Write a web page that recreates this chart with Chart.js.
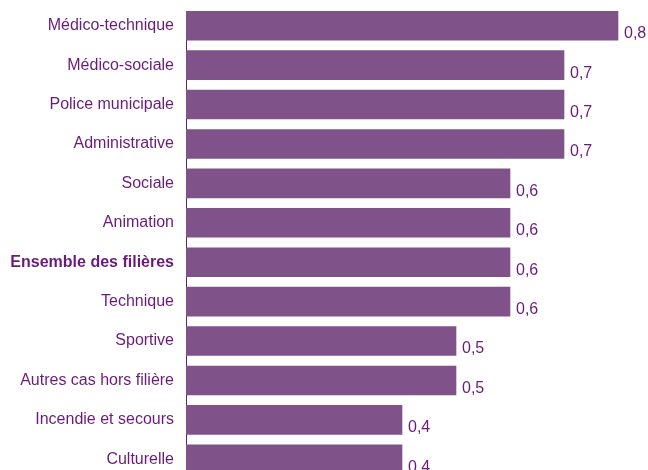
<!DOCTYPE html>
<html>
<head>
<meta charset="utf-8">
<script src="https://cdn.jsdelivr.net/npm/chart.js@4/dist/chart.umd.min.js"></script>
<style>
  html, body { margin: 0; padding: 0; background: #fff; overflow: hidden; }
  #wrap { width: 648px; height: 480px; }
</style>
</head>
<body>
<div id="wrap"><canvas id="chart"></canvas></div>
<script>
// filières et valeurs
const categories = [
  "Médico-technique", "Médico-sociale", "Police municipale", "Administrative",
  "Sociale", "Animation", "Ensemble des filières", "Technique",
  "Sportive", "Autres cas hors filière", "Incendie et secours", "Culturelle"
];
const values = [0.8, 0.7, 0.7, 0.7, 0.6, 0.6, 0.6, 0.6, 0.5, 0.5, 0.4, 0.4];
const boldIndex = 6;

const BAR = "#80528a";
const TEXT = "#6a1b7a";
const FONT = "'Liberation Sans', Arial, sans-serif";

// axe vertical qui part du haut de la première barre
const axisLine = {
  id: "axisLine",
  beforeDatasetsDraw(chart) {
    const ctx = chart.ctx;
    const bar = chart.getDatasetMeta(0).data[0];
    const x = Math.round(chart.chartArea.left) + 0.5;
    ctx.save();
    ctx.strokeStyle = TEXT;
    ctx.lineWidth = 1;
    ctx.beginPath();
    ctx.moveTo(x, bar.y - bar.height / 2);
    ctx.lineTo(x, chart.chartArea.bottom);
    ctx.stroke();
    ctx.restore();
  }
};

const valueLabels = {
  id: "valueLabels",
  afterDatasetsDraw(chart) {
    const ctx = chart.ctx;
    const meta = chart.getDatasetMeta(0);
    ctx.save();
    ctx.fillStyle = TEXT;
    ctx.font = "16px " + FONT;
    ctx.textAlign = "left";
    ctx.textBaseline = "middle";
    meta.data.forEach((bar, i) => {
      const txt = values[i].toFixed(1).replace(".", ",");
      ctx.fillText(txt, bar.x + 6, bar.y + 8);
    });
    ctx.restore();
  }
};

new Chart(document.getElementById("chart"), {
  type: "bar",
  data: {
    labels: categories,
    datasets: [{
      data: values,
      backgroundColor: BAR,
      borderWidth: 0,
      barThickness: 29
    }]
  },
  options: {
    indexAxis: "y",
    responsive: true,
    maintainAspectRatio: false,
    animation: false,
    layout: { padding: { top: 6, right: 3, bottom: 1, left: 0 } },
    plugins: {
      legend: { display: false },
      tooltip: { enabled: false }
    },
    scales: {
      x: {
        display: false,
        min: 0,
        max: 0.85
      },
      y: {
        grid: { display: false, drawTicks: false },
        border: { display: false },
        afterFit: (scale) => {
          scale.width = 186;
          scale.paddingTop = 0;
          scale.paddingBottom = 0;
        },
        ticks: {
          padding: 12,
          color: TEXT,
          font: (c) => ({
            family: FONT,
            size: 16,
            weight: c.index === boldIndex ? "bold" : "normal"
          })
        }
      }
    }
  },
  plugins: [axisLine, valueLabels]
});
</script>
</body>
</html>
